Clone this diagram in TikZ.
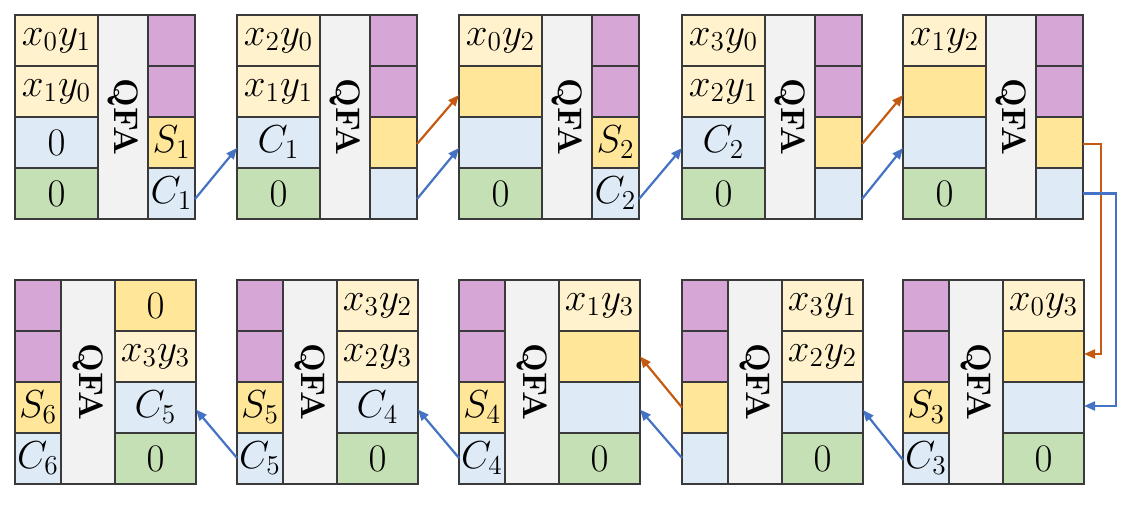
\documentclass[tikz,border=0pt]{standalone}
\usepackage{fix-cm}
\usepackage{graphicx}
\usepackage{tikz}
\usetikzlibrary{positioning, arrows.meta}
\usepackage{xcolor}

\definecolor{pale}{HTML}{FFF2CC}
\definecolor{gold}{HTML}{FFE699}
\definecolor{sky}{HTML}{DEEBF7}
\definecolor{leaf}{HTML}{C5E0B4}
\definecolor{plum}{HTML}{D5A6D6}
\definecolor{shade}{HTML}{F2F2F2}
\definecolor{edge}{HTML}{3A3A3A}
\definecolor{bluearrow}{HTML}{4472C4}
\definecolor{rustarrow}{HTML}{C55A11}

\tikzset{
  cellbase/.style={draw=edge, line width=0.6pt, inner sep=0pt, outer sep=0pt,
    anchor=north west, minimum height=25.5pt,
    font=\fontsize{19.5}{21}\selectfont},
  widecell/.style={cellbase, minimum width=41.5pt},
  thincell/.style={cellbase, minimum width=23.5pt},
  qfacell/.style={cellbase, fill=shade, minimum width=25pt, minimum height=102pt,
    font=\fontsize{17}{19}\selectfont\bfseries},
  flow/.style={line width=1.1pt, -{Triangle[length=5.5pt,width=4.5pt]}},
  carry/.style={flow, draw=bluearrow},
  sum/.style={flow, draw=rustarrow}
}

% upper row: name, x, row1, row2, fill row2, row3, S, C
\newcommand{\upperblock}[8]{%
  \node[widecell, fill=pale] (#1-l1) at (#2,15) {#3};
  \node[widecell, fill=#5] (#1-l2) at (#1-l1.south west) {#4};
  \node[widecell, fill=sky] (#1-l3) at (#1-l2.south west) {#6};
  \node[widecell, fill=leaf] (#1-l4) at (#1-l3.south west) {$0$};
  \node[qfacell] (#1-q) at (#1-l1.north east) {\rotatebox{-90}{QFA}};
  \node[thincell, fill=plum] (#1-r1) at (#1-q.north east) {};
  \node[thincell, fill=plum] (#1-r2) at (#1-r1.south west) {};
  \node[thincell, fill=gold] (#1-r3) at (#1-r2.south west) {#7};
  \node[thincell, fill=sky] (#1-r4) at (#1-r3.south west) {#8};
}

% lower row: name, x, row1, fill row1, row2, fill row2, row3, S, C
\newcommand{\lowerblock}[9]{%
  \node[thincell, minimum width=23pt, fill=plum] (#1-l1) at (#2,280) {};
  \node[thincell, minimum width=23pt, fill=plum] (#1-l2) at (#1-l1.south west) {};
  \node[thincell, minimum width=23pt, fill=gold] (#1-l3) at (#1-l2.south west) {#8};
  \node[thincell, minimum width=23pt, fill=sky] (#1-l4) at (#1-l3.south west) {#9};
  \node[qfacell, minimum width=27pt] (#1-q) at (#1-l1.north east) {\rotatebox{-90}{QFA}};
  \node[widecell, minimum width=40.5pt, fill=#4] (#1-r1) at (#1-q.north east) {#3};
  \node[widecell, minimum width=40.5pt, fill=#6] (#1-r2) at (#1-r1.south west) {#5};
  \node[widecell, minimum width=40.5pt, fill=sky] (#1-r3) at (#1-r2.south west) {#7};
  \node[widecell, minimum width=40.5pt, fill=leaf] (#1-r4) at (#1-r3.south west) {$0$};
}

\begin{document}
\begin{tikzpicture}[x=0.5pt, y=-0.5pt]
  \useasboundingbox (0,0) rectangle (1133,507);

  % first row, left to right
  \upperblock{p1}{15}{$x_0y_1$}{$x_1y_0$}{pale}{$0$}{$S_1$}{$C_1$}
  \upperblock{p2}{237}{$x_2y_0$}{$x_1y_1$}{pale}{$C_1$}{}{}
  \upperblock{p3}{459}{$x_0y_2$}{}{gold}{}{$S_2$}{$C_2$}
  \upperblock{p4}{682}{$x_3y_0$}{$x_2y_1$}{pale}{$C_2$}{}{}
  \upperblock{p5}{903}{$x_1y_2$}{}{gold}{}{}{}

  % second row, right to left
  \lowerblock{p6}{903}{$x_0y_3$}{pale}{}{gold}{}{$S_3$}{$C_3$}
  \lowerblock{p7}{682}{$x_3y_1$}{pale}{$x_2y_2$}{pale}{}{}{}
  \lowerblock{p8}{459}{$x_1y_3$}{pale}{}{gold}{}{$S_4$}{$C_4$}
  \lowerblock{p9}{237}{$x_3y_2$}{pale}{$x_2y_3$}{pale}{$C_4$}{$S_5$}{$C_5$}
  \lowerblock{p10}{15}{$0$}{gold}{$x_3y_3$}{pale}{$C_5$}{$S_6$}{$C_6$}

  % carries and partial sums
  \draw[carry] ([yshift=-2.75pt]p1-r4.east) -- ([yshift=-2.75pt]p2-l3.west);
  \draw[sum] ([yshift=-0.75pt]p2-r3.east) -- ([yshift=-1.75pt]p3-l2.west);
  \draw[carry] ([yshift=-2.75pt]p2-r4.east) -- ([yshift=-2.75pt]p3-l3.west);
  \draw[carry] ([yshift=-2.75pt]p3-r4.east) -- ([yshift=-2.75pt]p4-l3.west);
  \draw[sum] ([yshift=-0.75pt]p4-r3.east) -- ([yshift=-1.75pt]p5-l2.west);
  \draw[carry] ([yshift=-2.75pt]p4-r4.east) -- ([yshift=-2.75pt]p5-l3.west);
  \draw[sum] ([yshift=-0.75pt]p5-r3.east) -- ++(9pt,0) |- ([yshift=1.25pt]p6-r2.east);
  \draw[carry] (p5-r4.east) -- ++(16.5pt,0) |- ([yshift=0.75pt]p6-r3.east);
  \draw[carry] ([yshift=-0.75pt]p6-l4.west) -- ([yshift=-1.25pt]p7-r3.east);
  \draw[sum] (p7-l3.west) -- (p8-r2.east);
  \draw[carry] ([yshift=0.25pt]p7-l4.west) -- ([yshift=-1pt]p8-r3.east);
  \draw[carry] ([yshift=0.25pt]p8-l4.west) -- ([yshift=-1pt]p9-r3.east);
  \draw[carry] ([yshift=0.25pt]p9-l4.west) -- ([yshift=-1pt]p10-r3.east);
\end{tikzpicture}
\end{document}
